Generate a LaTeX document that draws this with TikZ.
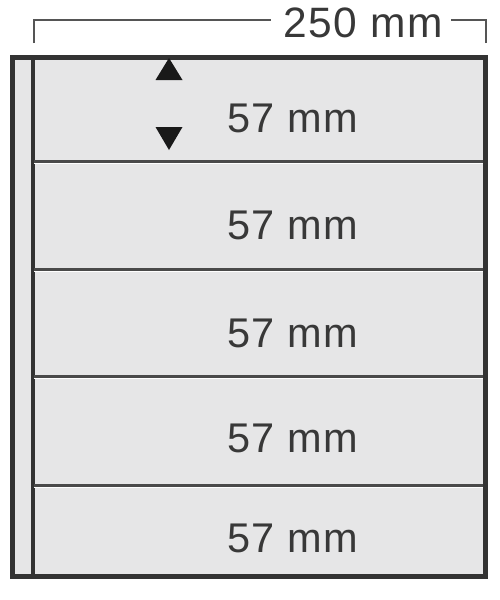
\documentclass[tikz,border=0pt]{standalone}
\usepackage{fontspec}
\setmainfont{Liberation Sans}
\newfontfamily\lblfont[LetterSpace=3.5]{Liberation Sans}
\definecolor{bandfill}{HTML}{E6E6E7}
\definecolor{edge}{HTML}{333333}
\definecolor{divc}{HTML}{4A4A4A}
\definecolor{txtc}{HTML}{383838}
\definecolor{brk}{HTML}{555555}
\tikzset{
  lbl/.style={inner sep=0pt, text=txtc, font=\lblfont\fontsize{41.5}{41.5}\selectfont, anchor=base west},
  divline/.style={draw=divc, line width=3pt},
  frame/.style={draw=edge, line width=4.5pt},
  bracket/.style={draw=brk, line width=2pt},
  tri/.style={fill=black!90}
}
\begin{document}
\begin{tikzpicture}[x=1pt,y=-1pt]
\useasboundingbox (0,0) rectangle (500,600);
% page body
\fill[bandfill] (12,56) rectangle (487,578);
% strip inner line
\coordinate (st) at (32.5,58);
\coordinate (sb) at (32.5,576);
\draw[frame, line width=4pt] (st) -- (sb);
% band dividers
\foreach \y/\n in {161/1,269/2,376/3,485/4}{
  \coordinate (dl\n) at (34,\y);
  \coordinate (dr\n) at (485,\y);
  \draw[divline] (dl\n) -- (dr\n);
  \draw[white, line width=1pt] ([yshift=-2.5pt]dl\n) -- ([yshift=-2.5pt]dr\n);
}
% outer frame
\coordinate (f1) at (12.5,57.5);
\coordinate (f2) at (485.5,576.5);
\draw[frame] (f1) rectangle (f2);
% labels
\node[lbl] (t1) at (227,132) {57 mm};
\node[lbl] (t2) at (227,239) {57 mm};
\node[lbl] (t3) at (227,347) {57 mm};
\node[lbl] (t4) at (227,452) {57 mm};
\node[lbl] (t5) at (227,552) {57 mm};
\node[lbl, font=\lblfont\fontsize{42.5}{42.5}\selectfont] (w) at (283,37) {250 mm};
% bracket
\coordinate (bl0) at (34,43);
\coordinate (bl1) at (34,20);
\coordinate (bl2) at (271,20);
\coordinate (br0) at (486,43);
\coordinate (br1) at (486,20);
\coordinate (br2) at (451,20);
\draw[bracket] (bl0) -- (bl1) -- (bl2);
\draw[bracket] (br0) -- (br1) -- (br2);
% triangles
\coordinate (ua) at (169,58);
\coordinate (ub) at (155.5,80);
\coordinate (uc) at (182.5,80);
\fill[tri] (ua) -- (ub) -- (uc) -- cycle;
\coordinate (da) at (169,150);
\coordinate (db) at (155.5,127);
\coordinate (dc) at (182.5,127);
\fill[tri] (da) -- (db) -- (dc) -- cycle;
\end{tikzpicture}
\end{document}
